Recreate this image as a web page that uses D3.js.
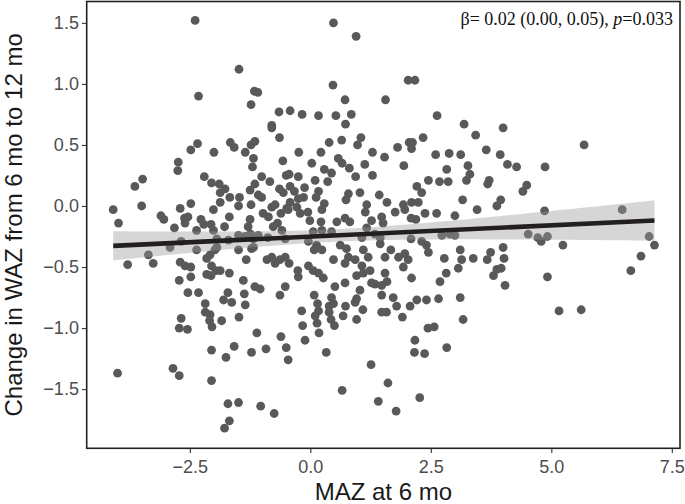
<!DOCTYPE html>
<html>
<head>
<meta charset="utf-8">
<script src="https://cdn.jsdelivr.net/npm/d3@7"></script>
<style>
  html, body { margin: 0; padding: 0; background: #fff; }
  svg { display: block; }
</style>
</head>
<body>
<svg id="chart" width="685" height="504"></svg>
<script>
// ---- data ----
const maz = [
  -2.39,-1.48,-2.32,-1.16,-1.09,-1.23,-0.65,-0.42,-0.80,-0.80,-0.64,-2.34,-2.48,-2.00,-1.66,-1.58,-1.23,-1.15,-1.35,
  0.48,0.95,0.47,2.03,2.17,0.72,1.56,-0.17,0.17,0.53,0.85,0.73,2.63,3.19,3.43,3.65,0.39,0.65,1.05,0.98,-0.24,0.22,1.29,1.81,2.05,2.12,2.10,2.34,2.60,2.88,3.12,
  4.00,5.68,3.94,
  -2.74,-2.75,-1.18,-1.20,-0.57,-3.64,-3.48,-2.20,-2.05,-1.89,-1.77,-1.87,-1.15,-1.01,-0.84,-1.25,-1.08,-1.01,-0.64,-0.50,-1.67,-1.47,-1.23,-1.87,-1.49,-2.48,-3.50,-4.09,-3.98,-3.10,-3.04,-2.70,-2.01,-1.68,-0.98,-0.87,-0.80,-0.61,-0.49,-2.61,-2.54,-2.60,-2.27,-2.21,-2.06,-2.01,-2.82,-2.36,-1.78,-1.25,-1.29,-1.24,-0.77,-0.68,-0.59,-1.49,-1.35,-1.18,-1.08,-1.70,-1.94,-1.94,-2.91,-2.68,-2.36,-3.36,-3.26,-3.79,-2.70,-2.60,-2.48,-2.15,-2.08,-1.98,-2.05,-1.96,-2.06,-2.15,-1.87,-1.68,-2.48,-2.72,-1.49,-1.33,-1.22,-0.90,-0.80,-0.73,-0.63,-0.52,-0.44,-1.39,-1.15,-1.04,-2.54,-2.32,-1.71,-1.80,-1.63,-1.37,-2.18,-0.63,-0.52,-0.56,-0.73,-0.88,-0.52,-1.18,
  -1.35,-2.68,-2.72,-2.55,-2.18,-2.08,-2.09,-2.04,-1.84,-1.48,-1.11,-0.61,-2.05,-1.58,-1.75,-1.22,-0.92,-0.50,-0.46,-4.00,-2.85,-2.72,-2.05,-1.71,-1.49,-1.68,-1.78,-1.03,-0.75,
  -0.18,0.17,0.10,0.14,0.39,0.39,0.43,0.50,0.73,0.68,0.93,1.09,0.96,-0.16,0.18,-0.11,0.33,1.48,1.58,1.79,1.91,2.07,2.44,2.57,3.17,2.17,2.16,2.37,2.83,1.26,0.66,1.61,1.41,1.78,2.27,
  5.16,5.62,
  4.09,4.28,4.87,3.71,3.68,4.49,4.41,3.95,3.87,4.86,6.47,4.52,4.72,4.79,4.92,5.24,7.03,7.14,6.86,6.65,3.74,3.67,4.00,4.02,3.96,3.87,3.80,4.92,4.04,
  1.54,0.58,0.66,0.03,1.13,1.94,2.83,3.27,0.29,0.44,0.36,0.81,0.94,1.29,-0.44,-0.25,0.10,2.45,2.68,2.86,3.24,3.31,2.21,2.31,-0.12,-0.42,-0.33,0.17,0.12,0.79,0.74,1.03,1.43,1.59,1.17,1.14,1.93,2.10,2.24,1.96,1.76,3.16,3.46,2.62,3.00,2.38,2.19,2.09,-0.42,-0.28,-0.46,-0.21,-0.05,-0.01,0.24,0.22,0.55,0.72,0.82,1.27,1.48,1.51,0.06,0.24,0.44,1.07,1.34,1.45,2.09,2.73,2.90,3.00,2.31,2.41,2.45,-0.04,0.13,0.08,0.24,0.62,0.75,0.79,1.10,1.20,1.45,1.67,1.55,1.83,1.96,2.03,1.93,2.78,3.11,3.14,3.38,0.48,0.72,0.93,1.07,-0.26,-0.25,-0.04,0.06,0.17,0.27,0.96,1.10,1.24,1.55,1.59,1.48,1.34,2.10,2.82,3.07,0.51,0.72,1.03,0.96,1.27,2.69,0.08,0.44,1.48,1.72,2.21,2.41,2.66,3.11,0.15,0.48,-0.25,-0.14,0.29,1.17
];
const dwaz = [
  1.52,1.12,0.90,0.94,0.93,0.83,0.77,0.78,0.66,0.64,0.56,0.51,0.46,0.44,0.52,0.48,0.50,0.53,0.44,
  1.50,1.39,0.99,1.03,1.03,0.87,0.87,0.75,0.74,0.74,0.75,0.67,0.74,0.67,0.58,0.46,0.52,0.54,0.56,0.50,0.44,0.44,0.44,0.48,0.52,0.52,0.47,0.56,0.42,0.43,0.42,
  0.64,0.50,0.42,
  0.36,0.29,0.39,0.32,0.37,0.16,0.22,0.24,0.19,0.18,0.14,0.11,0.18,0.24,0.20,0.13,0.09,0.07,0.14,0.25,0.07,0.07,0.01,0.03,0.00,0.02,0.00,-0.03,-0.14,-0.08,-0.11,-0.02,-0.03,-0.09,-0.06,-0.09,-0.01,-0.06,-0.02,-0.10,-0.09,-0.14,-0.11,-0.15,-0.15,-0.20,-0.18,-0.20,-0.17,-0.11,-0.17,-0.23,-0.17,-0.14,-0.20,-0.24,-0.25,-0.27,-0.24,-0.28,-0.27,-0.34,-0.34,-0.29,-0.36,-0.40,-0.47,-0.48,-0.46,-0.49,-0.50,-0.43,-0.40,-0.36,-0.49,-0.53,-0.57,-0.56,-0.53,-0.55,-0.58,-0.61,-0.36,-0.44,-0.35,-0.44,-0.42,-0.47,-0.44,-0.42,-0.47,-0.61,-0.66,-0.68,-0.71,-0.71,-0.71,-0.77,-0.79,-0.72,-0.80,-0.73,-0.66,0.11,0.01,-0.26,-0.27,-0.34,
  -0.81,-0.92,-1.00,-1.01,-0.87,-0.89,-0.94,-0.99,-0.94,-0.91,-1.04,-1.07,-1.18,-1.15,-1.24,-1.20,-1.17,-1.16,-1.26,-1.37,-1.33,-1.39,-1.43,-1.62,-1.61,-1.76,-1.82,-1.64,-1.70,
  -0.86,-0.86,-0.90,-0.96,-0.82,-0.87,-0.93,-0.98,-0.82,-0.90,-0.79,-0.85,-0.93,-0.98,-1.04,-1.10,-1.20,-0.87,-0.87,-0.82,-0.91,-0.82,-1.00,-0.99,-0.93,-1.10,-1.20,-1.21,-1.16,-1.30,-1.51,-1.45,-1.60,-1.68,-1.57,
  -0.86,-0.85,
  0.34,0.32,0.32,0.21,0.18,0.17,0.12,0.05,0.00,-0.04,-0.03,-0.23,-0.26,-0.29,-0.25,-0.32,-0.25,-0.32,-0.41,-0.53,-0.38,-0.44,-0.34,-0.43,-0.51,-0.52,-0.57,-0.58,-0.65,
  0.40,0.39,0.35,0.35,0.34,0.33,0.30,0.33,0.30,0.27,0.20,0.31,0.24,0.25,0.26,0.24,0.21,0.21,0.20,0.20,0.21,0.26,0.16,0.11,0.15,0.16,0.12,0.12,0.07,0.10,0.05,0.11,0.09,0.03,0.01,-0.05,0.01,0.03,0.03,-0.03,-0.05,0.05,-0.03,-0.06,-0.08,-0.06,-0.11,-0.10,0.03,-0.01,-0.03,-0.06,-0.05,-0.12,-0.03,-0.13,-0.13,-0.10,-0.13,-0.12,-0.09,-0.14,-0.21,-0.20,-0.21,-0.26,-0.23,-0.26,-0.27,-0.24,-0.23,-0.24,-0.29,-0.32,-0.38,-0.29,-0.32,-0.36,-0.36,-0.32,-0.35,-0.42,-0.36,-0.42,-0.31,-0.36,-0.42,-0.42,-0.39,-0.44,-0.50,-0.43,-0.36,-0.44,-0.43,-0.44,-0.47,-0.44,-0.49,-0.53,-0.58,-0.49,-0.53,-0.55,-0.59,-0.57,-0.55,-0.53,-0.55,-0.62,-0.65,-0.64,-0.59,-0.55,-0.51,-0.66,-0.63,-0.69,-0.76,-0.63,-0.62,-0.73,-0.75,-0.73,-0.75,-0.77,-0.77,-0.76,-0.75,-0.80,-0.80,0.06,0.07,0.02,-0.18
];

// fitted linear model
const fitIntercept = -0.251;
const fitSlope = 0.0185;
const bandCenterX = 0.5;     // x where CI is narrowest
const bandHalfMin = 0.051;   // CI half-width at that x
const bandSlopeSE = 0.0236;  // growth of half-width away from centre

const xTicks = [-2.5, 0, 2.5, 5, 7.5];
const yTicks = [-1.5, -1.0, -0.5, 0.0, 0.5, 1.0, 1.5];
const xTitle = "MAZ at 6 mo";
const yTitle = "Change in WAZ from 6 mo to 12 mo";

// ---- layout ----
const svg = d3.select("#chart");
const P = { left: 86.7, right: 680, top: 1.5, bottom: 448.3 };

const x = d3.scaleLinear().domain([-4.64, 7.67]).range([P.left, P.right]);
const y = d3.scaleLinear().domain([-1.985, 1.675]).range([P.bottom, P.top]);

const fmt = v => d3.format(".1f")(v).replace("-", "\u2212");

// points
const pts = maz.map((v, i) => ({ x: v, y: dwaz[i] }));
svg.append("g")
  .selectAll("circle")
  .data(pts)
  .enter().append("circle")
  .attr("cx", d => x(d.x))
  .attr("cy", d => y(d.y))
  .attr("r", 4.4)
  .attr("fill", "#595959");

// CI band + line
const [xmin, xmax] = d3.extent(maz);
const grid = d3.range(0, 81).map(i => xmin + (xmax - xmin) * i / 80);
const fit = v => fitIntercept + fitSlope * v;
const hw = v => Math.sqrt(bandHalfMin * bandHalfMin + Math.pow(bandSlopeSE * (v - bandCenterX), 2));

svg.append("path")
  .datum(grid)
  .attr("d", d3.area()
    .x(d => x(d))
    .y0(d => y(fit(d) - hw(d)))
    .y1(d => y(fit(d) + hw(d))))
  .attr("fill", "#999999")
  .attr("fill-opacity", 0.4);

svg.append("path")
  .datum([xmin, xmax])
  .attr("d", d3.line().x(d => x(d)).y(d => y(fit(d))))
  .attr("stroke", "#231f20")
  .attr("stroke-width", 4.6)
  .attr("fill", "none");

// panel border
svg.append("rect")
  .attr("x", P.left).attr("y", P.top)
  .attr("width", P.right - P.left).attr("height", P.bottom - P.top)
  .attr("fill", "none")
  .attr("stroke", "#222")
  .attr("stroke-width", 1.6);

// axes
const xAxis = d3.axisBottom(x).tickValues(xTicks).tickSize(4).tickPadding(4).tickFormat(fmt);
const gx = svg.append("g").attr("transform", `translate(0,${P.bottom + 0.8})`).call(xAxis);
gx.select(".domain").remove();
gx.selectAll(".tick line").attr("stroke", "#333").attr("stroke-width", 1.1);
gx.selectAll(".tick text")
  .attr("fill", "#4d4d4d")
  .attr("font-family", "'Liberation Sans', Arial, sans-serif")
  .attr("font-size", 18)
  .attr("dy", "0.9em");

const yAxis = d3.axisLeft(y).tickValues(yTicks).tickSize(4).tickPadding(3).tickFormat(fmt);
const gy = svg.append("g").attr("transform", `translate(${P.left - 0.8},0)`).call(yAxis);
gy.select(".domain").remove();
gy.selectAll(".tick line").attr("stroke", "#333").attr("stroke-width", 1.1);
gy.selectAll(".tick text")
  .attr("fill", "#4d4d4d")
  .attr("font-family", "'Liberation Sans', Arial, sans-serif")
  .attr("font-size", 18);

// axis titles
svg.append("text")
  .attr("x", (P.left + P.right) / 2)
  .attr("y", 500)
  .attr("text-anchor", "middle")
  .attr("font-family", "'Liberation Sans', Arial, sans-serif")
  .attr("font-size", 24)
  .attr("fill", "#1a1a1a")
  .text(xTitle);

svg.append("text")
  .attr("transform", `translate(22,${(P.top + P.bottom) / 2}) rotate(-90)`)
  .attr("text-anchor", "middle")
  .attr("font-family", "'Liberation Sans', Arial, sans-serif")
  .attr("font-size", 24)
  .attr("fill", "#1a1a1a")
  .text(yTitle);

// annotation
const ann = svg.append("text")
  .attr("x", 673)
  .attr("y", 25)
  .attr("text-anchor", "end")
  .attr("font-family", "'Liberation Serif', 'Times New Roman', serif")
  .attr("font-size", 18)
  .attr("fill", "#111");
ann.append("tspan").text("\u03B2= 0.02 (0.00, 0.05), ");
ann.append("tspan").attr("font-style", "italic").text("p");
ann.append("tspan").text("=0.033");
</script>
</body>
</html>
